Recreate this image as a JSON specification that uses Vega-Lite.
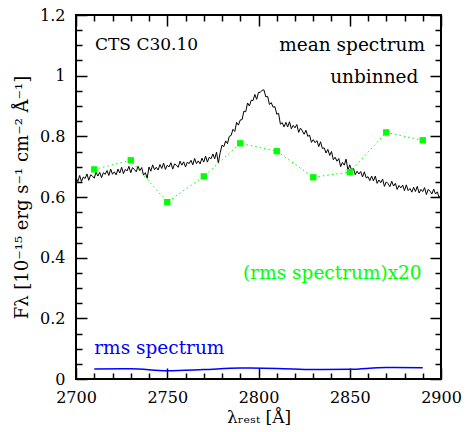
{
  "$schema": "https://vega.github.io/schema/vega-lite/v6.json",
  "width": 365,
  "height": 364,
  "autosize": {"type": "none"},
  "padding": {"left": 76, "top": 15, "right": 24, "bottom": 53},
  "background": "white",
  "config": {
    "view": {"stroke": "black", "strokeWidth": 2},
    "axis": {"domain": false, "grid": false, "labelFont": "DejaVu Serif", "titleFont": "DejaVu Serif", "labelColor": "black", "titleColor": "black", "tickColor": "black", "tickWidth": 1.5, "labelFontSize": 16, "titleFontSize": 16, "titleFontWeight": "normal"}
  },
  "datasets": {
    "spec": [
      {"wl":2700,"flux":0.663},{"wl":2701,"flux":0.651},{"wl":2702,"flux":0.671},{"wl":2703,"flux":0.651},{"wl":2704,"flux":0.666},{"wl":2705,"flux":0.661},{"wl":2706,"flux":0.676},{"wl":2707,"flux":0.655},{"wl":2708,"flux":0.673},{"wl":2709,"flux":0.669},
      {"wl":2710,"flux":0.662},{"wl":2711,"flux":0.682},{"wl":2712,"flux":0.669},{"wl":2713,"flux":0.681},{"wl":2714,"flux":0.664},{"wl":2715,"flux":0.680},{"wl":2716,"flux":0.675},{"wl":2717,"flux":0.687},{"wl":2718,"flux":0.671},{"wl":2719,"flux":0.692},
      {"wl":2720,"flux":0.675},{"wl":2721,"flux":0.683},{"wl":2722,"flux":0.673},{"wl":2723,"flux":0.692},{"wl":2724,"flux":0.679},{"wl":2725,"flux":0.698},{"wl":2726,"flux":0.677},{"wl":2727,"flux":0.691},{"wl":2728,"flux":0.686},{"wl":2729,"flux":0.701},
      {"wl":2730,"flux":0.680},{"wl":2731,"flux":0.697},{"wl":2732,"flux":0.691},{"wl":2733,"flux":0.683},{"wl":2734,"flux":0.701},{"wl":2735,"flux":0.687},{"wl":2736,"flux":0.697},{"wl":2737,"flux":0.672},{"wl":2738,"flux":0.680},{"wl":2739,"flux":0.662},
      {"wl":2740,"flux":0.699},{"wl":2741,"flux":0.685},{"wl":2742,"flux":0.706},{"wl":2743,"flux":0.690},{"wl":2744,"flux":0.698},{"wl":2745,"flux":0.689},{"wl":2746,"flux":0.707},{"wl":2747,"flux":0.694},{"wl":2748,"flux":0.712},{"wl":2749,"flux":0.691},
      {"wl":2750,"flux":0.705},{"wl":2751,"flux":0.699},{"wl":2752,"flux":0.713},{"wl":2753,"flux":0.692},{"wl":2754,"flux":0.709},{"wl":2755,"flux":0.705},{"wl":2756,"flux":0.698},{"wl":2757,"flux":0.718},{"wl":2758,"flux":0.705},{"wl":2759,"flux":0.716},
      {"wl":2760,"flux":0.699},{"wl":2761,"flux":0.715},{"wl":2762,"flux":0.710},{"wl":2763,"flux":0.721},{"wl":2764,"flux":0.706},{"wl":2765,"flux":0.727},{"wl":2766,"flux":0.710},{"wl":2767,"flux":0.719},{"wl":2768,"flux":0.709},{"wl":2769,"flux":0.728},
      {"wl":2770,"flux":0.715},{"wl":2771,"flux":0.735},{"wl":2772,"flux":0.715},{"wl":2773,"flux":0.731},{"wl":2774,"flux":0.726},{"wl":2775,"flux":0.742},{"wl":2776,"flux":0.726},{"wl":2777,"flux":0.748},{"wl":2778,"flux":0.712},{"wl":2779,"flux":0.746},
      {"wl":2780,"flux":0.771},{"wl":2781,"flux":0.766},{"wl":2782,"flux":0.785},{"wl":2783,"flux":0.776},{"wl":2784,"flux":0.800},{"wl":2785,"flux":0.803},{"wl":2786,"flux":0.823},{"wl":2787,"flux":0.816},{"wl":2788,"flux":0.846},{"wl":2789,"flux":0.837},
      {"wl":2790,"flux":0.854},{"wl":2791,"flux":0.855},{"wl":2792,"flux":0.883},{"wl":2793,"flux":0.881},{"wl":2794,"flux":0.910},{"wl":2795,"flux":0.900},{"wl":2796,"flux":0.919},{"wl":2797,"flux":0.918},{"wl":2798,"flux":0.938},{"wl":2799,"flux":0.922},
      {"wl":2800,"flux":0.945},{"wl":2801,"flux":0.945},{"wl":2802,"flux":0.952},{"wl":2803,"flux":0.953},{"wl":2804,"flux":0.930},{"wl":2805,"flux":0.932},{"wl":2806,"flux":0.905},{"wl":2807,"flux":0.911},{"wl":2808,"flux":0.896},{"wl":2809,"flux":0.898},
      {"wl":2810,"flux":0.873},{"wl":2811,"flux":0.876},{"wl":2812,"flux":0.840},{"wl":2813,"flux":0.845},{"wl":2814,"flux":0.831},{"wl":2815,"flux":0.846},{"wl":2816,"flux":0.831},{"wl":2817,"flux":0.848},{"wl":2818,"flux":0.825},{"wl":2819,"flux":0.836},
      {"wl":2820,"flux":0.828},{"wl":2821,"flux":0.839},{"wl":2822,"flux":0.813},{"wl":2823,"flux":0.827},{"wl":2824,"flux":0.818},{"wl":2825,"flux":0.807},{"wl":2826,"flux":0.820},{"wl":2827,"flux":0.800},{"wl":2828,"flux":0.804},{"wl":2829,"flux":0.780},
      {"wl":2830,"flux":0.789},{"wl":2831,"flux":0.779},{"wl":2832,"flux":0.786},{"wl":2833,"flux":0.766},{"wl":2834,"flux":0.782},{"wl":2835,"flux":0.760},{"wl":2836,"flux":0.762},{"wl":2837,"flux":0.745},{"wl":2838,"flux":0.757},{"wl":2839,"flux":0.737},
      {"wl":2840,"flux":0.750},{"wl":2841,"flux":0.723},{"wl":2842,"flux":0.731},{"wl":2843,"flux":0.718},{"wl":2844,"flux":0.727},{"wl":2845,"flux":0.700},{"wl":2846,"flux":0.714},{"wl":2847,"flux":0.705},{"wl":2848,"flux":0.725},{"wl":2849,"flux":0.688},
      {"wl":2850,"flux":0.706},{"wl":2851,"flux":0.689},{"wl":2852,"flux":0.695},{"wl":2853,"flux":0.674},{"wl":2854,"flux":0.685},{"wl":2855,"flux":0.676},{"wl":2856,"flux":0.684},{"wl":2857,"flux":0.666},{"wl":2858,"flux":0.683},{"wl":2859,"flux":0.663},
      {"wl":2860,"flux":0.667},{"wl":2861,"flux":0.654},{"wl":2862,"flux":0.669},{"wl":2863,"flux":0.653},{"wl":2864,"flux":0.669},{"wl":2865,"flux":0.645},{"wl":2866,"flux":0.656},{"wl":2867,"flux":0.647},{"wl":2868,"flux":0.659},{"wl":2869,"flux":0.635},
      {"wl":2870,"flux":0.650},{"wl":2871,"flux":0.644},{"wl":2872,"flux":0.634},{"wl":2873,"flux":0.652},{"wl":2874,"flux":0.636},{"wl":2875,"flux":0.645},{"wl":2876,"flux":0.625},{"wl":2877,"flux":0.638},{"wl":2878,"flux":0.630},{"wl":2879,"flux":0.639},
      {"wl":2880,"flux":0.621},{"wl":2881,"flux":0.640},{"wl":2882,"flux":0.621},{"wl":2883,"flux":0.628},{"wl":2884,"flux":0.616},{"wl":2885,"flux":0.632},{"wl":2886,"flux":0.618},{"wl":2887,"flux":0.635},{"wl":2888,"flux":0.613},{"wl":2889,"flux":0.625},
      {"wl":2890,"flux":0.618},{"wl":2891,"flux":0.631},{"wl":2892,"flux":0.608},{"wl":2893,"flux":0.625},{"wl":2894,"flux":0.619},{"wl":2895,"flux":0.610},{"wl":2896,"flux":0.626},{"wl":2897,"flux":0.610},{"wl":2898,"flux":0.617},{"wl":2899,"flux":0.597},
      {"wl":2900,"flux":0.609}
    ],
    "rms": [
      {"wl":2710,"rms20":0.691,"rms":0.033},
      {"wl":2730,"rms20":0.721,"rms":0.034},
      {"wl":2750,"rms20":0.583,"rms":0.027},
      {"wl":2770,"rms20":0.668,"rms":0.031},
      {"wl":2790,"rms20":0.777,"rms":0.036},
      {"wl":2810,"rms20":0.751,"rms":0.035},
      {"wl":2830,"rms20":0.665,"rms":0.031},
      {"wl":2850,"rms20":0.682,"rms":0.032},
      {"wl":2870,"rms20":0.813,"rms":0.038},
      {"wl":2890,"rms20":0.787,"rms":0.037}
    ]
  },
  "resolve": {"axis": {"x": "independent", "y": "independent"}},
  "layer": [
    {
      "data": {"name": "spec"},
      "mark": {"type": "line", "color": "black", "strokeWidth": 1, "clip": true},
      "encoding": {
        "x": {"field": "wl", "type": "quantitative", "scale": {"domain": [2700, 2900], "nice": false, "zero": false},
          "axis": {"orient": "bottom", "ticks": false, "values": [2700, 2750, 2800, 2850, 2900], "format": "d", "labelPadding": 10, "labelFlush": false, "labelOverlap": false, "title": "λᵣₑₛₜ [Å]", "titleFontSize": 17, "titlePadding": 4}},
        "y": {"field": "flux", "type": "quantitative", "scale": {"domain": [0, 1.2], "nice": false, "zero": false},
          "axis": {"orient": "left", "ticks": false, "values": [0, 0.2, 0.4, 0.6, 0.8, 1, 1.2], "labelExpr": "'' + datum.value", "labelPadding": 11, "labelFlush": false, "labelOverlap": false, "title": "Fλ [10⁻¹⁵ erg s⁻¹ cm⁻² Å⁻¹]", "titleFontSize": 18, "titlePadding": 8}}
      }
    },
    {
      "data": {"name": "rms"},
      "mark": {"type": "line", "color": "#00ff00", "strokeWidth": 1, "strokeDash": [1.5, 3]},
      "encoding": {
        "x": {"field": "wl", "type": "quantitative", "axis": {"orient": "bottom", "labels": false, "title": null, "values": [2700, 2750, 2800, 2850, 2900], "tickSize": -11}},
        "y": {"field": "rms20", "type": "quantitative", "axis": {"orient": "left", "labels": false, "title": null, "values": [0, 0.2, 0.4, 0.6, 0.8, 1, 1.2], "tickSize": -11}}
      }
    },
    {
      "data": {"name": "rms"},
      "mark": {"type": "square", "color": "#00ff00", "opacity": 1, "size": 40},
      "encoding": {
        "x": {"field": "wl", "type": "quantitative", "axis": {"orient": "bottom", "labels": false, "title": null, "values": [2710, 2720, 2730, 2740, 2760, 2770, 2780, 2790, 2810, 2820, 2830, 2840, 2860, 2870, 2880, 2890], "tickSize": -6}},
        "y": {"field": "rms20", "type": "quantitative", "axis": {"orient": "left", "labels": false, "title": null, "values": [0.05, 0.1, 0.15, 0.25, 0.3, 0.35, 0.45, 0.5, 0.55, 0.65, 0.7, 0.75, 0.85, 0.9, 0.95, 1.05, 1.1, 1.15], "tickSize": -6}}
      }
    },
    {
      "data": {"name": "rms"},
      "mark": {"type": "line", "color": "#0000ff", "strokeWidth": 1.5, "interpolate": "monotone"},
      "encoding": {
        "x": {"field": "wl", "type": "quantitative", "axis": {"orient": "top", "labels": false, "title": null, "values": [2700, 2750, 2800, 2850, 2900], "tickSize": -11}},
        "y": {"field": "rms", "type": "quantitative", "axis": {"orient": "right", "labels": false, "title": null, "values": [0, 0.2, 0.4, 0.6, 0.8, 1, 1.2], "tickSize": -11}}
      }
    },
    {
      "data": {"name": "rms"},
      "mark": {"type": "point", "opacity": 0},
      "encoding": {
        "x": {"field": "wl", "type": "quantitative", "axis": {"orient": "top", "labels": false, "title": null, "values": [2710, 2720, 2730, 2740, 2760, 2770, 2780, 2790, 2810, 2820, 2830, 2840, 2860, 2870, 2880, 2890], "tickSize": -6}},
        "y": {"field": "rms", "type": "quantitative", "axis": {"orient": "right", "labels": false, "title": null, "values": [0.05, 0.1, 0.15, 0.25, 0.3, 0.35, 0.45, 0.5, 0.55, 0.65, 0.7, 0.75, 0.85, 0.9, 0.95, 1.05, 1.1, 1.15], "tickSize": -6}}
      }
    },
    {
      "data": {"values": [{"t": "CTS C30.10"}]},
      "mark": {"type": "text", "align": "left", "baseline": "middle", "font": "DejaVu Serif", "fontSize": 17, "color": "black"},
      "encoding": {"x": {"datum": 2710.4, "type": "quantitative", "axis": null}, "y": {"datum": 1.1, "type": "quantitative", "axis": null}, "text": {"field": "t"}}
    },
    {
      "data": {"values": [{"t": "mean spectrum"}]},
      "mark": {"type": "text", "align": "right", "baseline": "middle", "font": "DejaVu Serif", "fontSize": 18.5, "color": "black"},
      "encoding": {"x": {"datum": 2891.2, "type": "quantitative", "axis": null}, "y": {"datum": 1.1, "type": "quantitative", "axis": null}, "text": {"field": "t"}}
    },
    {
      "data": {"values": [{"t": "unbinned"}]},
      "mark": {"type": "text", "align": "right", "baseline": "middle", "font": "DejaVu Serif", "fontSize": 18.5, "color": "black"},
      "encoding": {"x": {"datum": 2887.6, "type": "quantitative", "axis": null}, "y": {"datum": 0.997, "type": "quantitative", "axis": null}, "text": {"field": "t"}}
    },
    {
      "data": {"values": [{"t": "(rms spectrum)x20"}]},
      "mark": {"type": "text", "align": "right", "baseline": "middle", "font": "DejaVu Serif", "fontSize": 18.5, "color": "#00ff00"},
      "encoding": {"x": {"datum": 2889.4, "type": "quantitative", "axis": null}, "y": {"datum": 0.348, "type": "quantitative", "axis": null}, "text": {"field": "t"}}
    },
    {
      "data": {"values": [{"t": "rms spectrum"}]},
      "mark": {"type": "text", "align": "left", "baseline": "middle", "font": "DejaVu Serif", "fontSize": 18.5, "color": "#0000ff"},
      "encoding": {"x": {"datum": 2710, "type": "quantitative", "axis": null}, "y": {"datum": 0.101, "type": "quantitative", "axis": null}, "text": {"field": "t"}}
    }
  ]
}
